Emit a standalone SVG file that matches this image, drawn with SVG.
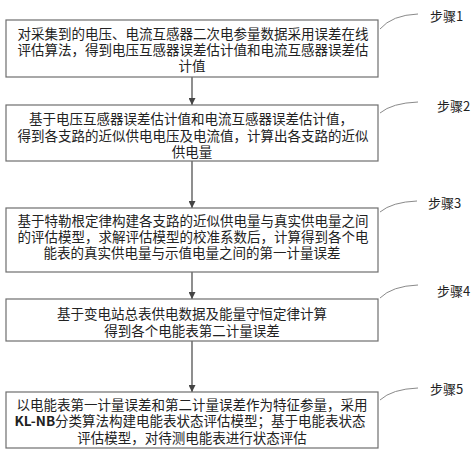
<svg xmlns="http://www.w3.org/2000/svg" width="474" height="455" viewBox="0 0 474 455">
<defs>
<style>
.box{fill:#fff;stroke:#6e6e6e;stroke-width:1.2}
.t{font-family:"Noto Sans CJK SC","Noto Sans",sans-serif;font-size:13.5px;fill:#222;text-anchor:middle;dominant-baseline:central}
.lab{font-family:"Noto Sans CJK SC","Noto Sans",sans-serif;font-size:13px;fill:#222;dominant-baseline:central}
.cv{fill:none;stroke:#8a8a8a;stroke-width:1}
.ar{stroke:#444;stroke-width:1.2;fill:none;marker-end:url(#ah)}
</style>
<marker id="ah" viewBox="0 0 10 10" refX="10" refY="5" markerWidth="7" markerHeight="7" markerUnits="userSpaceOnUse" orient="auto">
<path d="M0,0 L10,5 L0,10 z" fill="#444"/>
</marker>
</defs>
<rect width="474" height="455" fill="#fff"/>
<g id="connectors">
<line class="ar" x1="192" y1="77" x2="192" y2="105"/>
<line class="ar" x1="192" y1="161" x2="192" y2="208"/>
<line class="ar" x1="192" y1="272" x2="192" y2="299"/>
<line class="ar" x1="192" y1="341" x2="192" y2="392"/>
<path class="cv" d="M380,29 Q392,15 418,14"/>
<path class="cv" d="M380,113 Q392,103 418,102"/>
<path class="cv" d="M380,212 Q392,202 417,201"/>
<path class="cv" d="M380,298 Q392,286 418,285"/>
<path class="cv" d="M380,400 Q392,389 418,388"/>
</g>
<g id="step1">
<rect class="box" x="6" y="20" width="372" height="57"/>
<text class="t" x="193" y="33">对采集到的电压、电流互感器二次电参量数据采用误差在线</text>
<text class="t" x="193" y="49">评估算法，得到电压互感器误差估计值和电流互感器误差估</text>
<text class="t" x="192" y="65">计值</text>
<text class="lab" x="430" y="15">步骤1</text>
</g>
<g id="step2">
<rect class="box" x="6" y="105" width="372" height="56"/>
<text class="t" x="191" y="118">基于电压互感器误差估计值和电流互感器误差估计值，</text>
<text class="t" x="193" y="135">得到各支路的近似供电电压及电流值，计算出各支路的近似</text>
<text class="t" x="192" y="151">供电量</text>
<text class="lab" x="437" y="105">步骤2</text>
</g>
<g id="step3">
<rect class="box" x="6" y="208" width="372" height="64"/>
<text class="t" x="193" y="220">基于特勒根定律构建各支路的近似供电量与真实供电量之间</text>
<text class="t" x="193" y="236">的评估模型，求解评估模型的校准系数后，计算得到各个电</text>
<text class="t" x="192" y="252">能表的真实供电量与示值电量之间的第一计量误差</text>
<text class="lab" x="428" y="202">步骤3</text>
</g>
<g id="step4">
<rect class="box" x="6" y="299" width="372" height="42"/>
<text class="t" x="192" y="313">基于变电站总表供电数据及能量守恒定律计算</text>
<text class="t" x="192" y="330">得到各个电能表第二计量误差</text>
<text class="lab" x="437" y="290">步骤4</text>
</g>
<g id="step5">
<rect class="box" x="6" y="392" width="372" height="56"/>
<text class="t" x="192" y="404">以电能表第一计量误差和第二计量误差作为特征参量，采用</text>
<text class="t" x="190" y="420"><tspan font-weight="bold">KL-NB</tspan>分类算法构建电能表状态评估模型；基于电能表状态</text>
<text class="t" x="192" y="437">评估模型，对待测电能表进行状态评估</text>
<text class="lab" x="430" y="388">步骤5</text>
</g>
</svg>
